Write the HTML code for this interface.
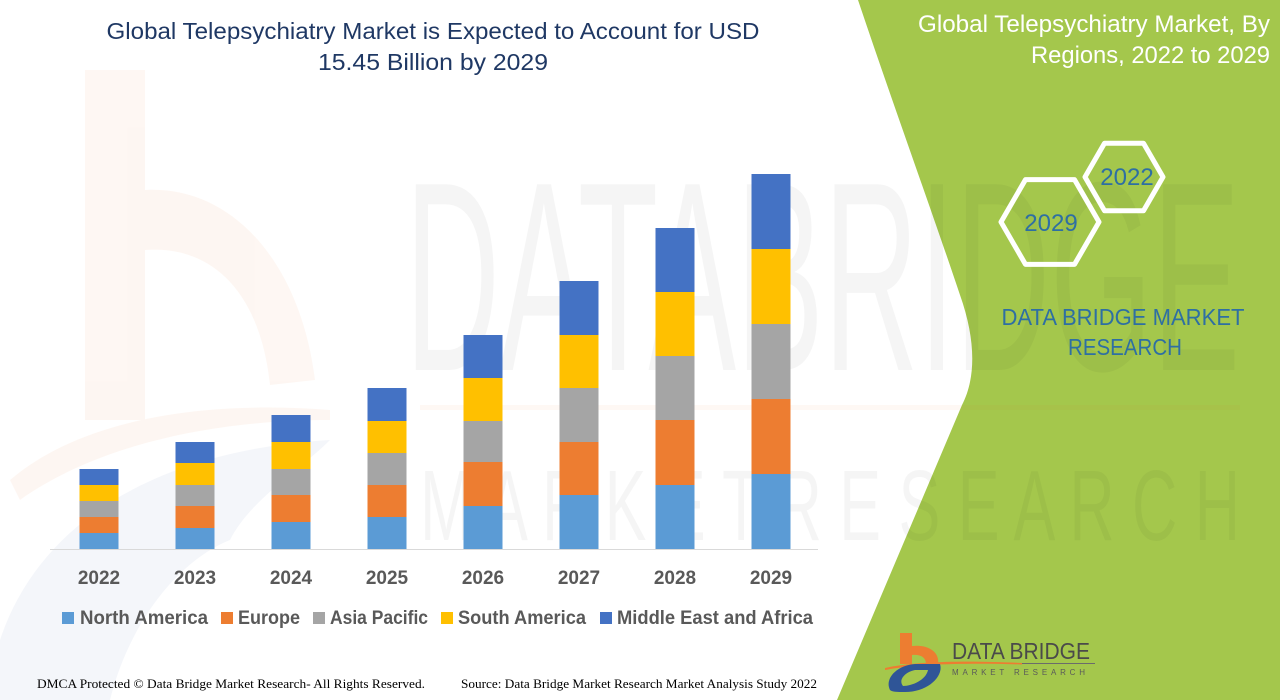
<!DOCTYPE html>
<html>
<head>
<meta charset="utf-8">
<style>
html,body{margin:0;padding:0;background:#fff;}
svg{display:block;}
text{font-family:"Liberation Sans",Arial,sans-serif;}
</style>
</head>
<body>
<svg width="1280" height="700" viewBox="0 0 1280 700" xmlns="http://www.w3.org/2000/svg">
<rect width="1280" height="700" fill="#ffffff"/>

<!-- faint background watermark logo (left) -->
<g opacity="0.06">
  <rect x="85" y="70" width="60" height="350" fill="#ED7D31"/>
  <path d="M145,190 C230,185 300,260 315,380 L270,385 C260,290 210,245 145,250 Z" fill="#ED7D31"/>
  <path d="M10,480 C80,420 200,400 330,410 L330,420 C200,420 90,450 20,500 Z" fill="#ED7D31"/>
</g>
<g opacity="0.05">
  <path d="M0,640 C40,520 160,450 330,440 C300,470 250,500 230,540 C180,560 130,620 110,700 L0,700 Z" fill="#2F5597"/>
</g>

<!-- green panel -->
<path d="M858,0 C895,110 935,220 960,295 C976,340 976,378 962,405 L837,700 L1280,700 L1280,0 Z" fill="#A4C74C"/>

<!-- faint watermark text -->
<g fill="#000" opacity="0.035">
  <text x="405" y="370" font-size="270" textLength="835" lengthAdjust="spacingAndGlyphs">DATABRIDGE</text>
  <text x="420" y="540" font-size="100" textLength="820" lengthAdjust="spacingAndGlyphs">M A R K E T R E S E A R C H</text>
</g>
<rect x="420" y="405" width="820" height="5" fill="#ED7D31" opacity="0.05"/>

<!-- axis line -->
<line x1="50" y1="549.5" x2="818" y2="549.5" stroke="#D9D9D9" stroke-width="1"/>

<!-- bars -->
<g>
  <!-- 2022 -->
  <rect x="79.5" y="533" width="39" height="16" fill="#5B9BD5"/>
  <rect x="79.5" y="517" width="39" height="16" fill="#ED7D31"/>
  <rect x="79.5" y="501" width="39" height="16" fill="#A5A5A5"/>
  <rect x="79.5" y="485" width="39" height="16" fill="#FFC000"/>
  <rect x="79.5" y="469" width="39" height="16" fill="#4472C4"/>
  <!-- 2023 -->
  <rect x="175.5" y="528" width="39" height="21" fill="#5B9BD5"/>
  <rect x="175.5" y="506" width="39" height="22" fill="#ED7D31"/>
  <rect x="175.5" y="485" width="39" height="21" fill="#A5A5A5"/>
  <rect x="175.5" y="463" width="39" height="22" fill="#FFC000"/>
  <rect x="175.5" y="442" width="39" height="21" fill="#4472C4"/>
  <!-- 2024 -->
  <rect x="271.5" y="522" width="39" height="27" fill="#5B9BD5"/>
  <rect x="271.5" y="495" width="39" height="27" fill="#ED7D31"/>
  <rect x="271.5" y="469" width="39" height="26" fill="#A5A5A5"/>
  <rect x="271.5" y="442" width="39" height="27" fill="#FFC000"/>
  <rect x="271.5" y="415" width="39" height="27" fill="#4472C4"/>
  <!-- 2025 -->
  <rect x="367.5" y="517" width="39" height="32" fill="#5B9BD5"/>
  <rect x="367.5" y="485" width="39" height="32" fill="#ED7D31"/>
  <rect x="367.5" y="453" width="39" height="32" fill="#A5A5A5"/>
  <rect x="367.5" y="421" width="39" height="32" fill="#FFC000"/>
  <rect x="367.5" y="388" width="39" height="33" fill="#4472C4"/>
  <!-- 2026 -->
  <rect x="463.5" y="506" width="39" height="43" fill="#5B9BD5"/>
  <rect x="463.5" y="462" width="39" height="44" fill="#ED7D31"/>
  <rect x="463.5" y="421" width="39" height="41" fill="#A5A5A5"/>
  <rect x="463.5" y="378" width="39" height="43" fill="#FFC000"/>
  <rect x="463.5" y="335" width="39" height="43" fill="#4472C4"/>
  <!-- 2027 -->
  <rect x="559.5" y="495" width="39" height="54" fill="#5B9BD5"/>
  <rect x="559.5" y="442" width="39" height="53" fill="#ED7D31"/>
  <rect x="559.5" y="388" width="39" height="54" fill="#A5A5A5"/>
  <rect x="559.5" y="335" width="39" height="53" fill="#FFC000"/>
  <rect x="559.5" y="281" width="39" height="54" fill="#4472C4"/>
  <!-- 2028 -->
  <rect x="655.5" y="485" width="39" height="64" fill="#5B9BD5"/>
  <rect x="655.5" y="420" width="39" height="65" fill="#ED7D31"/>
  <rect x="655.5" y="356" width="39" height="64" fill="#A5A5A5"/>
  <rect x="655.5" y="292" width="39" height="64" fill="#FFC000"/>
  <rect x="655.5" y="228" width="39" height="64" fill="#4472C4"/>
  <!-- 2029 -->
  <rect x="751.5" y="474" width="39" height="75" fill="#5B9BD5"/>
  <rect x="751.5" y="399" width="39" height="75" fill="#ED7D31"/>
  <rect x="751.5" y="324" width="39" height="75" fill="#A5A5A5"/>
  <rect x="751.5" y="249" width="39" height="75" fill="#FFC000"/>
  <rect x="751.5" y="174" width="39" height="75" fill="#4472C4"/>
</g>

<!-- year labels -->
<g font-size="19" font-weight="bold" fill="#595959" text-anchor="middle">
  <text x="99" y="584">2022</text>
  <text x="195" y="584">2023</text>
  <text x="291" y="584">2024</text>
  <text x="387" y="584">2025</text>
  <text x="483" y="584">2026</text>
  <text x="579" y="584">2027</text>
  <text x="675" y="584">2028</text>
  <text x="771" y="584">2029</text>
</g>

<!-- legend -->
<g font-size="19" font-weight="bold" fill="#595959">
  <rect x="62" y="612" width="12" height="12" fill="#5B9BD5"/>
  <text x="80" y="624" textLength="128" lengthAdjust="spacingAndGlyphs">North America</text>
  <rect x="221" y="612" width="12" height="12" fill="#ED7D31"/>
  <text x="238" y="624" textLength="62" lengthAdjust="spacingAndGlyphs">Europe</text>
  <rect x="313" y="612" width="12" height="12" fill="#A5A5A5"/>
  <text x="330" y="624" textLength="98" lengthAdjust="spacingAndGlyphs">Asia Pacific</text>
  <rect x="441" y="612" width="12" height="12" fill="#FFC000"/>
  <text x="458" y="624" textLength="128" lengthAdjust="spacingAndGlyphs">South America</text>
  <rect x="600" y="612" width="12" height="12" fill="#4472C4"/>
  <text x="617" y="624" textLength="196" lengthAdjust="spacingAndGlyphs">Middle East and Africa</text>
</g>

<!-- title -->
<g font-size="23.5" fill="#1F3864" text-anchor="middle">
  <text x="433" y="39" textLength="653" lengthAdjust="spacingAndGlyphs">Global Telepsychiatry Market is Expected to Account for USD</text>
  <text x="433" y="70" textLength="230" lengthAdjust="spacingAndGlyphs">15.45 Billion by 2029</text>
</g>

<!-- footer -->
<g font-family="Liberation Serif, serif" font-size="13" fill="#000">
  <text x="37" y="688" style="font-family:'Liberation Serif',serif" textLength="388" lengthAdjust="spacingAndGlyphs">DMCA Protected © Data Bridge Market Research- All Rights Reserved.</text>
  <text x="461" y="688" style="font-family:'Liberation Serif',serif" textLength="356" lengthAdjust="spacingAndGlyphs">Source: Data Bridge Market Research Market Analysis Study 2022</text>
</g>

<!-- right panel title -->
<g font-size="24" fill="#ffffff" text-anchor="end">
  <text x="1270" y="32" textLength="352" lengthAdjust="spacingAndGlyphs">Global Telepsychiatry Market, By</text>
  <text x="1270" y="63" textLength="239" lengthAdjust="spacingAndGlyphs">Regions, 2022 to 2029</text>
</g>

<!-- hexagons -->
<g fill="none" stroke="#ffffff" stroke-width="5" stroke-linejoin="round">
  <polygon points="1001,222 1025.5,179.6 1074.5,179.6 1099,222 1074.5,264.4 1025.5,264.4"/>
  <polygon points="1085,177 1104.5,143.2 1143.5,143.2 1163,177 1143.5,210.8 1104.5,210.8"/>
</g>
<g font-size="24" fill="#2E6FA3" text-anchor="middle">
  <text x="1051" y="231">2029</text>
  <text x="1127" y="185">2022</text>
</g>
<g font-size="23" fill="#2E6FA3" text-anchor="middle">
  <text x="1123" y="325" textLength="243" lengthAdjust="spacingAndGlyphs">DATA BRIDGE MARKET</text>
  <text x="1125" y="355" textLength="114" lengthAdjust="spacingAndGlyphs">RESEARCH</text>
</g>

<!-- bottom logo -->
<g>
  <path d="M885,668 C920,660 980,661 1022,663 L1022,664.5 C980,663 920,663 885,670 Z" fill="#ED7D31"/>
  <rect x="900" y="633" width="12" height="31" fill="#ED7D31"/>
  <path d="M912,646 C928,644 940,652 938,664 L926,664 C926,657 920,654 912,655 Z" fill="#ED7D31"/>
  <path d="M890,690 C884,678 898,665 915,664 L940,664 C944,676 928,692 905,692 C897,692 892,692 890,690 Z M903,686 C912,686 926,680 928,670 L915,670 C905,672 898,680 903,686 Z" fill="#2F5597" fill-rule="evenodd"/>
  <text x="952" y="659" font-size="23" fill="#4A4A4A" textLength="138" lengthAdjust="spacingAndGlyphs">DATA BRIDGE</text>
  <line x1="1022" y1="663.5" x2="1095" y2="663.5" stroke="#6b6b6b" stroke-width="1"/>
  <text x="952" y="675" font-size="8" fill="#5a5a5a" textLength="133" lengthAdjust="spacing">MARKET  RESEARCH</text>
</g>
</svg>
</body>
</html>
